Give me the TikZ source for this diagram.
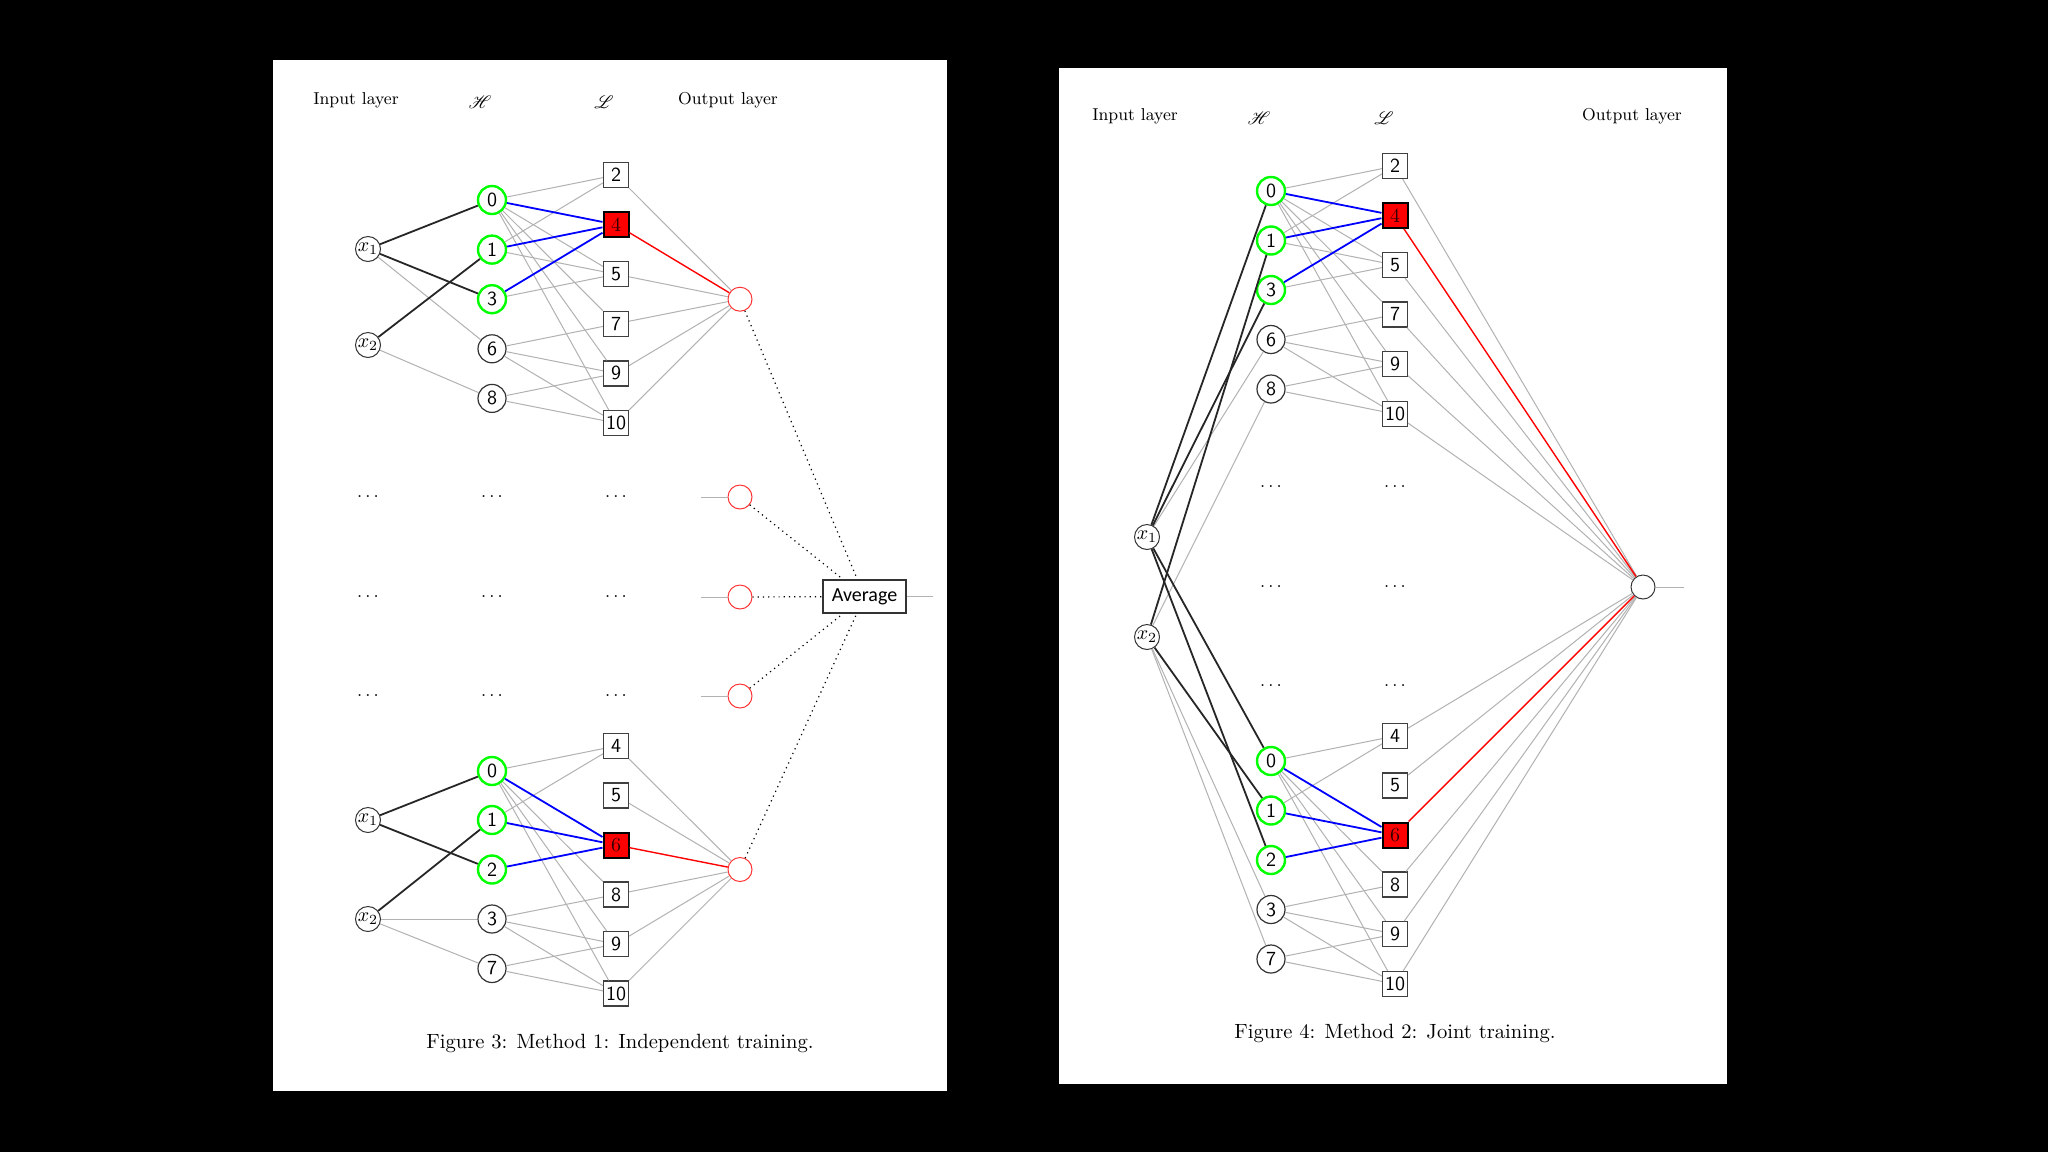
\documentclass[tikz,border=0pt]{standalone}
\usepackage{fontspec}
\usepackage{mathrsfs}
\newfontfamily\avgfont{Carlito}

\tikzset{
    hnode/.style={circle, draw=black!80, line width=0.6pt, fill=white, inner sep=0pt, minimum size=14pt, font=\sffamily},
    hon/.style={hnode, draw=green, line width=1.2pt},
    lnode/.style={rectangle, draw=black!75, line width=0.6pt, fill=white, inner sep=0pt, minimum size=12.5pt, font=\sffamily},
    lon/.style={lnode, draw=black, line width=1pt, fill=red, font=\rmfamily, text=red!20!black},
    xnode/.style={circle, draw=black!80, line width=0.5pt, fill=white, inner sep=0pt, minimum size=12.5pt},
    onode/.style={circle, draw=red!80, line width=0.5pt, fill=white, inner sep=0pt, minimum size=12pt},
    avgbox/.style={rectangle, draw=black!80, line width=0.7pt, fill=white, inner sep=0pt, minimum width=41.5pt, minimum height=16.5pt, font=\avgfont},
    wire/.style={gray!60, line width=0.5pt},
    inwire/.style={black!85, line width=0.9pt},
    bluewire/.style={blue, line width=0.9pt},
    redwire/.style={red, line width=0.7pt},
    avgwire/.style={dotted, line width=0.6pt},
    layertitle/.style={font=\fontsize{8.6pt}{10pt}\selectfont},
    skipdots/.style={font=\fontsize{9pt}{10pt}\selectfont},
    figcaption/.style={font=\fontsize{10.3pt}{12pt}\selectfont}
}

\begin{document}
\begin{tikzpicture}[x=0.5pt, y=-0.5pt]
    % Screen background and the two pages
    \fill[black] (0,0) rectangle (2048,1152);
    \fill[white] (273,60) rectangle (947,1091);
    \fill[white] (1059,68) rectangle (1727,1084);

    % ===== Method 1: independent training (left page) =====
    \node[layertitle] (aInTitle) at (356,100) {Input layer};
    \node[layertitle] (aHTitle) at (480,102) {$\mathscr{H}$};
    \node[layertitle] (aLTitle) at (604,102) {$\mathscr{L}$};
    \node[layertitle] (aOutTitle) at (728,100) {Output layer};

    % Upper network
    \node[xnode] (ax1) at (368,249) {$x_1$};
    \node[xnode] (ax2) at (368,345) {$x_2$};
    \foreach \n/\y/\s in {0/200/hon, 1/249.6/hon, 3/299.2/hon, 6/348.8/hnode, 8/398.4/hnode}
        \node[\s] (aH\n) at (492,\y) {\n};
    \foreach \n/\y/\s in {2/175/lnode, 4/224.6/lon, 5/274.2/lnode, 7/323.8/lnode, 9/373.4/lnode, 10/423/lnode}
        \node[\s] (aL\n) at (616,\y) {\n};
    \node[onode] (aout) at (740,299.2) {};

    % Rows that are left out
    \foreach \r/\y in {1/497, 2/597, 3/696} {
        \node[skipdots] (aDotsX\r) at (368,\y) {$\ldots$};
        \node[skipdots] (aDotsH\r) at (492,\y) {$\ldots$};
        \node[skipdots] (aDotsL\r) at (616,\y) {$\ldots$};
        \node[onode] (aMid\r) at (740,\y) {};
        \coordinate (aStub\r) at (701,\y);
        \draw[wire] (aStub\r) -- (aMid\r);
    }

    % Lower network
    \node[xnode] (bx1) at (368,820) {$x_1$};
    \node[xnode] (bx2) at (368,919) {$x_2$};
    \foreach \n/\y/\s in {0/771/hon, 1/820/hon, 2/869.5/hon, 3/919/hnode, 7/968.5/hnode}
        \node[\s] (bH\n) at (492,\y) {\n};
    \foreach \n/\y/\s in {4/746/lnode, 5/795.5/lnode, 6/845/lon, 8/894.5/lnode, 9/944/lnode, 10/993.5/lnode}
        \node[\s] (bL\n) at (616,\y) {\n};
    \node[onode] (bout) at (740,869.5) {};

    % Averaging the outputs
    \node[avgbox] (avg) at (864.5,596.5) {Average};
    \coordinate (avgEnd) at (933,596.5);
    \draw[wire] (avg) -- (avgEnd);
    \foreach \o in {aout, aMid1, aMid2, aMid3, bout}
        \draw[avgwire] (\o) -- (avg);

    \node[figcaption] (aCaption) at (620,1043) {Figure 3: Method 1: Independent training.};

    % ===== Method 2: joint training (right page) =====
    \node[layertitle] (cInTitle) at (1135,116) {Input layer};
    \node[layertitle] (cHTitle) at (1259,118) {$\mathscr{H}$};
    \node[layertitle] (cLTitle) at (1384,118) {$\mathscr{L}$};
    \node[layertitle] (cOutTitle) at (1632,116) {Output layer};

    \node[xnode] (cx1) at (1147,537) {$x_1$};
    \node[xnode] (cx2) at (1147,637) {$x_2$};

    % Upper part
    \foreach \n/\y/\s in {0/191/hon, 1/240.5/hon, 3/290/hon, 6/339.5/hnode, 8/389/hnode}
        \node[\s] (cH\n) at (1271,\y) {\n};
    \foreach \n/\y/\s in {2/166/lnode, 4/215.5/lon, 5/265/lnode, 7/314.5/lnode, 9/364/lnode, 10/414/lnode}
        \node[\s] (cL\n) at (1395,\y) {\n};

    % Rows that are left out
    \foreach \r/\y in {1/487, 2/586.5, 3/686} {
        \node[skipdots] (cDotsH\r) at (1271,\y) {$\ldots$};
        \node[skipdots] (cDotsL\r) at (1395,\y) {$\ldots$};
    }

    % Lower part
    \foreach \n/\y/\s in {0/761/hon, 1/810.5/hon, 2/860/hon, 3/909.5/hnode, 7/959/hnode}
        \node[\s] (dH\n) at (1271,\y) {\n};
    \foreach \n/\y/\s in {4/736/lnode, 5/785.5/lnode, 6/835/lon, 8/884.5/lnode, 9/934/lnode, 10/984/lnode}
        \node[\s] (dL\n) at (1395,\y) {\n};

    % Shared output
    \node[onode, draw=black!80] (jout) at (1643,587) {};
    \coordinate (joutEnd) at (1684,587);
    \draw[wire] (jout) -- (joutEnd);

    \node[figcaption] (cCaption) at (1395,1033) {Figure 4: Method 2: Joint training.};

    % ===== Connections =====
    % Upper blocks (prefix / input prefix / output)
    \foreach \p/\q/\o in {a/a/aout, c/c/jout} {
        \foreach \h/\l in {0/2, 1/2, 0/5, 1/5, 3/5, 0/7, 6/7, 0/9, 6/9, 8/9, 0/10, 6/10, 8/10}
            \draw[wire] (\p H\h) -- (\p L\l);
        \foreach \l in {2, 5, 7, 9, 10}
            \draw[wire] (\p L\l) -- (\o);
        \draw[wire] (\q x1) -- (\p H6);
        \draw[wire] (\q x2) -- (\p H8);
        \draw[inwire] (\q x1) -- (\p H0);
        \draw[inwire] (\q x1) -- (\p H3);
        \draw[inwire] (\q x2) -- (\p H1);
        \foreach \h in {0, 1, 3}
            \draw[bluewire] (\p H\h) -- (\p L4);
        \draw[redwire] (\p L4) -- (\o);
    }

    % Lower blocks
    \foreach \p/\q/\o in {b/b/bout, d/c/jout} {
        \foreach \h/\l in {0/4, 1/4, 0/8, 3/8, 0/9, 3/9, 7/9, 0/10, 3/10, 7/10}
            \draw[wire] (\p H\h) -- (\p L\l);
        \foreach \l in {4, 5, 8, 9, 10}
            \draw[wire] (\p L\l) -- (\o);
        \draw[wire] (\q x2) -- (\p H3);
        \draw[wire] (\q x2) -- (\p H7);
        \draw[inwire] (\q x1) -- (\p H0);
        \draw[inwire] (\q x1) -- (\p H2);
        \draw[inwire] (\q x2) -- (\p H1);
        \foreach \h in {0, 1, 2}
            \draw[bluewire] (\p H\h) -- (\p L6);
        \draw[redwire] (\p L6) -- (\o);
    }
\end{tikzpicture}
\end{document}
